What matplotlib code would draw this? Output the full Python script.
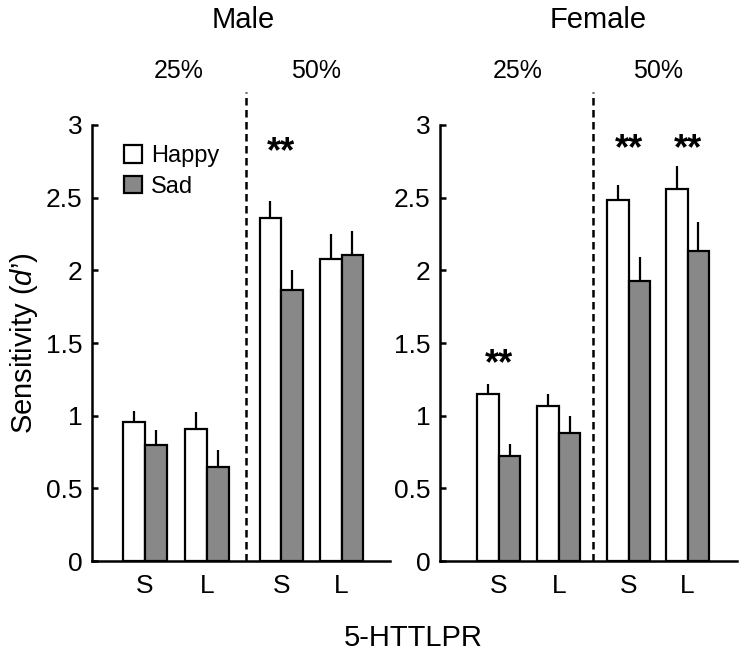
import matplotlib
matplotlib.use("Agg")
import matplotlib.pyplot as plt
from matplotlib.patches import Patch
import numpy as np

plt.rcParams['font.family'] = ['Liberation Sans', 'DejaVu Sans']
plt.rcParams['mathtext.fontset'] = 'custom'
plt.rcParams['mathtext.it'] = 'Liberation Sans:italic'
plt.rcParams['mathtext.rm'] = 'Liberation Sans'

# data: order is 25% S, 25% L, 50% S, 50% L
genotypes = ["S", "L", "S", "L"]
percents = ["25%", "50%"]
panels = ["Male", "Female"]

male_happy = [0.96, 0.91, 2.36, 2.08]
male_happy_err = [0.075, 0.115, 0.12, 0.17]
male_sad = [0.80, 0.65, 1.865, 2.105]
male_sad_err = [0.10, 0.115, 0.14, 0.165]

female_happy = [1.15, 1.07, 2.485, 2.56]
female_happy_err = [0.07, 0.08, 0.10, 0.16]
female_sad = [0.72, 0.88, 1.93, 2.135]
female_sad_err = [0.085, 0.12, 0.16, 0.20]

# significance marks (group index, height)
stars = {"Male": [(2, 2.81)], "Female": [(0, 1.35), (2, 2.83), (3, 2.83)]}

fig = plt.figure(figsize=(7.45, 6.61), dpi=100)
ax_l = fig.add_axes([0.1235, 0.151, 0.400, 0.660])
ax_r = fig.add_axes([0.5906, 0.151, 0.3987, 0.660])

pos_l = np.array([0.855, 1.855, 3.05, 4.02])
pos_r = np.array([0.95, 1.92, 3.05, 4.0])
w = 0.35

# x positions of the header texts (axis units)
head_l = {"title": 2.44, "p25": 1.39, "p50": 3.61}
head_r = {"title": 2.55, "p25": 1.26, "p50": 3.53}

datasets = [
    (ax_l, pos_l, head_l, "Male", male_happy, male_happy_err, male_sad, male_sad_err),
    (ax_r, pos_r, head_r, "Female", female_happy, female_happy_err, female_sad, female_sad_err),
]

for ax, pos, head, name, hap, hap_e, sad, sad_e in datasets:
    ax.bar(pos - w / 2, hap, w, color="white", edgecolor="black", linewidth=1.6, zorder=2)
    ax.bar(pos + w / 2, sad, w, color="#888888", edgecolor="black", linewidth=1.6, zorder=2)
    zeros = np.zeros(len(pos))
    ax.errorbar(pos - w / 2, hap, yerr=[zeros, hap_e], fmt="none", ecolor="black",
                elinewidth=1.6, capsize=0, zorder=1)
    ax.errorbar(pos + w / 2, sad, yerr=[zeros, sad_e], fmt="none", ecolor="black",
                elinewidth=1.6, capsize=0, zorder=1)

    ax.set_xlim(0, 4.8)
    ax.set_ylim(0, 3)
    ax.spines["top"].set_visible(False)
    ax.spines["right"].set_visible(False)
    ax.spines["left"].set_linewidth(1.8)
    ax.spines["bottom"].set_linewidth(1.8)
    ax.set_yticks([0, 0.5, 1, 1.5, 2, 2.5, 3])
    ax.set_yticklabels(["0", "0.5", "1", "1.5", "2", "2.5", "3"])
    ax.tick_params(axis="y", direction="in", length=4, width=1.8, labelsize=19, pad=7)
    ax.set_xticks(pos)
    ax.set_xticklabels(genotypes)
    ax.tick_params(axis="x", length=0, labelsize=19, pad=9)

    ax.axvline(2.48, ymin=0, ymax=1.076, color="black", lw=1.8,
               linestyle=(0, (3, 1.8)), clip_on=False)

    ax.text(head["p25"], 3.37, percents[0], ha="center", va="center", fontsize=18)
    ax.text(head["p50"], 3.37, percents[1], ha="center", va="center", fontsize=18)
    ax.text(head["title"], 3.72, name, ha="center", va="center", fontsize=21)

    for gi, h in stars[name]:
        ax.text(pos[gi], h, "**", ha="center", va="center", fontsize=26, fontweight="bold")

ax_l.set_ylabel("Sensitivity ($d$’)", fontsize=21, labelpad=4)

handles = [Patch(facecolor="white", edgecolor="black", linewidth=1.6, label="Happy"),
           Patch(facecolor="#888888", edgecolor="black", linewidth=1.6, label="Sad")]
ax_l.legend(handles=handles, loc="upper left", bbox_to_anchor=(0.075, 0.975), frameon=False,
            fontsize=17, handlelength=0.75, handleheight=0.75, handletextpad=0.4,
            labelspacing=0.35, borderaxespad=0)

fig.text(0.555, 0.035, "5-HTTLPR", ha="center", va="center", fontsize=21)

fig.savefig("out.png", dpi=100)
